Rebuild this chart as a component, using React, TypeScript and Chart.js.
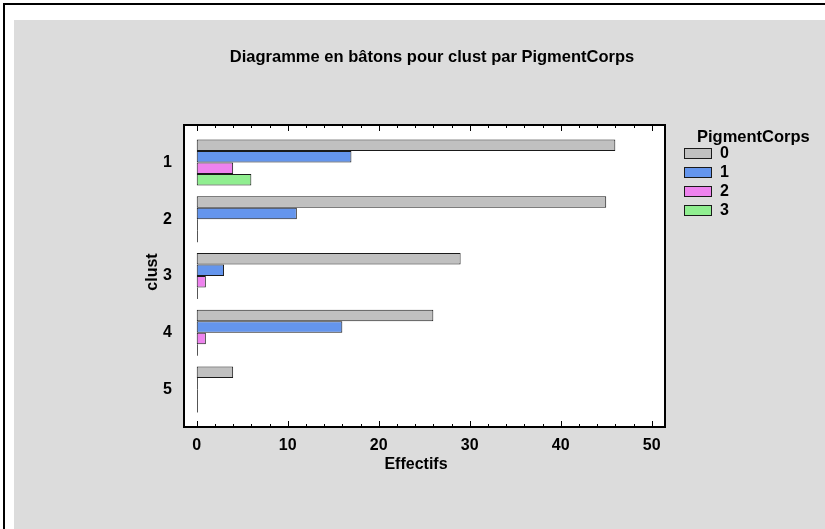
import React, { useEffect, useRef } from 'react';
import { Chart, registerables } from 'chart.js';

Chart.register(...registerables);

const chartTitle = 'Diagramme en bâtons pour clust par PigmentCorps';
const xAxisTitle = 'Effectifs';
const yAxisTitle = 'clust';
const legendTitle = 'PigmentCorps';
const categories = [1, 2, 3, 4, 5];
const seriesLabels = ['0', '1', '2', '3'];
const series0 = [46, 45, 29, 26, 4];
const series1 = [17, 11, 3, 16, 0];
const series2 = [4, 0, 1, 1, 0];
const series3 = [6, 0, 0, 0, 0];
const xTickValues = [0, 10, 20, 30, 40, 50];
const seriesColors = ['#C0C0C0', '#6495ED', '#EE82EE', '#90EE90'];

const FONT = '"Liberation Sans", Arial, sans-serif';

const decorPlugin = {
  id: 'decor',
  beforeDraw(chart: any) {
    const ctx = chart.ctx;
    const { left, right, top, bottom } = chart.chartArea;
    ctx.save();
    ctx.fillStyle = '#FFFFFF';
    ctx.fillRect(0, 0, chart.width, chart.height);
    ctx.fillStyle = '#000000';
    ctx.fillRect(3, 3, chart.width - 3, 2);
    ctx.fillRect(3, 3, 2, chart.height - 3);
    ctx.fillStyle = '#DCDCDC';
    ctx.fillRect(14, 20, chart.width - 14, chart.height - 20);
    ctx.fillStyle = '#FFFFFF';
    ctx.fillRect(left, top, right - left, bottom - top);
    ctx.restore();
  },
  afterDatasetsDraw(chart: any) {
    const ctx = chart.ctx;
    const xs = chart.scales.x;
    const x0 = xs.getPixelForValue(0);
    ctx.save();
    ctx.strokeStyle = '#555555';
    ctx.lineWidth = 1;
    chart.data.datasets.forEach((ds: any, di: number) => {
      const meta = chart.getDatasetMeta(di);
      meta.data.forEach((el: any, i: number) => {
        if (ds.data[i].x === 0) {
          ctx.beginPath();
          ctx.moveTo(Math.round(x0) + 0.5, el.y - el.height / 2);
          ctx.lineTo(Math.round(x0) + 0.5, el.y + el.height / 2);
          ctx.stroke();
        }
      });
    });
    ctx.restore();
  },
  afterDraw(chart: any) {
    const ctx = chart.ctx;
    const { left, right, top, bottom } = chart.chartArea;
    const xs = chart.scales.x;
    ctx.save();
    ctx.strokeStyle = '#000000';
    ctx.lineWidth = 2;
    ctx.strokeRect(left, top, right - left, bottom - top);
    ctx.lineWidth = 1;
    for (let v = 0; v <= 50; v += 2) {
      const px = Math.round(xs.getPixelForValue(v)) + 0.5;
      const len = v % 10 === 0 ? 6 : 3;
      ctx.beginPath();
      ctx.moveTo(px, bottom);
      ctx.lineTo(px, bottom - len);
      ctx.moveTo(px, top);
      ctx.lineTo(px, top + len);
      ctx.stroke();
    }
    ctx.fillStyle = '#000000';
    ctx.textAlign = 'center';
    ctx.textBaseline = 'middle';
    ctx.font = `bold 16.5px ${FONT}`;
    ctx.fillText(chartTitle, 432, 57);
    ctx.font = `bold 16px ${FONT}`;
    ctx.fillText(xAxisTitle, 416, 465);
    ctx.save();
    ctx.translate(153, 272);
    ctx.rotate(-Math.PI / 2);
    ctx.fillText(yAxisTitle, 0, 0);
    ctx.restore();
    ctx.textAlign = 'left';
    ctx.font = `bold 16.5px ${FONT}`;
    ctx.fillText(legendTitle, 697, 137);
    ctx.font = `bold 16px ${FONT}`;
    chart.data.datasets.forEach((ds: any, i: number) => {
      const y = 148 + i * 19;
      ctx.fillStyle = ds.backgroundColor;
      ctx.fillRect(684, y, 28, 11);
      ctx.strokeStyle = '#1a1a1a';
      ctx.lineWidth = 1;
      ctx.strokeRect(684.5, y + 0.5, 27, 10);
      ctx.fillStyle = '#000000';
      ctx.fillText(ds.label, 720, y + 6);
    });
    ctx.restore();
  },
};

export default function App() {
  const ref = useRef<HTMLCanvasElement | null>(null);
  useEffect(() => {
    if (!ref.current) return;
    const all = [series0, series1, series2, series3];
    const chart = new Chart(ref.current, {
      type: 'bar',
      data: {
        datasets: all.map((s, i) => ({
          label: seriesLabels[i],
          data: categories.map((c, j) => ({ x: s[j], y: c })),
          backgroundColor: seriesColors[i],
          borderColor: '#1a1a1a',
          borderWidth: 1,
          borderSkipped: false,
          categoryPercentage: 0.81,
          barPercentage: 1,
        })),
      },
      options: {
        indexAxis: 'y',
        responsive: false,
        animation: false,
        layout: { padding: { left: 0, top: 125, right: 160, bottom: 0 } },
        plugins: {
          legend: { display: false },
          title: { display: false },
          tooltip: { enabled: false },
        },
        scales: {
          x: {
            type: 'linear',
            min: -1.4,
            max: 51.46,
            offset: false,
            grid: { display: false, drawTicks: false, offset: false },
            border: { display: false },
            afterBuildTicks: (s: any) => {
              s.ticks = xTickValues.map((v) => ({ value: v }));
            },
            afterFit: (s: any) => {
              s.height = 102;
            },
            ticks: {
              padding: 9,
              color: '#000',
              font: { family: FONT, size: 16, weight: 'bold' },
              callback: (v: any) => String(v),
            },
          },
          y: {
            type: 'linear',
            reverse: true,
            min: 0.339,
            max: 5.661,
            offset: false,
            grid: { display: false, drawTicks: false, offset: false },
            border: { display: false },
            afterBuildTicks: (s: any) => {
              s.ticks = categories.map((v) => ({ value: v }));
            },
            afterFit: (s: any) => {
              s.width = 184;
            },
            ticks: {
              padding: 12,
              color: '#000',
              font: { family: FONT, size: 16, weight: 'bold' },
              callback: (v: any) => String(v),
            },
          },
        },
      },
      plugins: [decorPlugin],
    } as any);
    return () => chart.destroy();
  }, []);
  return (
    <div style={{ position: 'absolute', left: 0, top: 0, width: 825, height: 529 }}>
      <canvas ref={ref} width={825} height={529} style={{ display: 'block' }} />
    </div>
  );
}
